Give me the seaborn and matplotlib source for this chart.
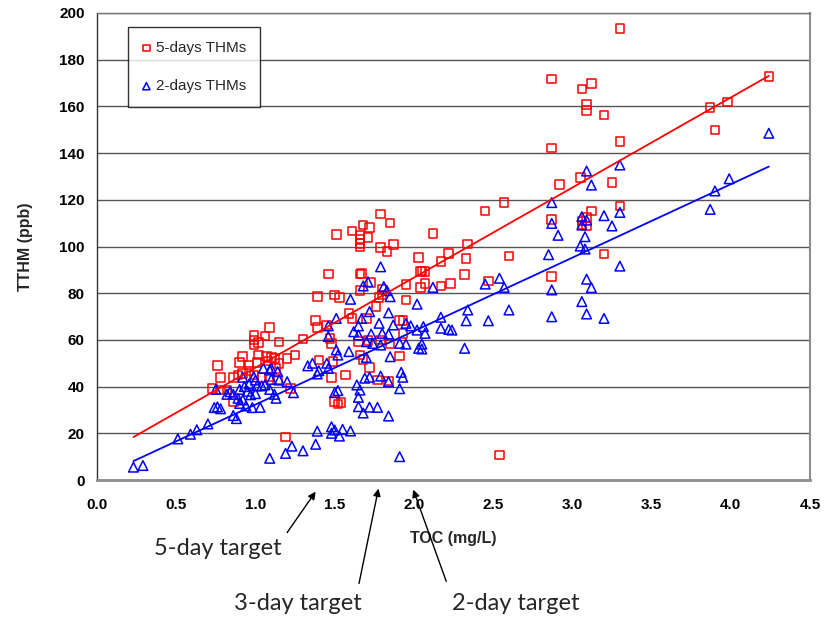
import matplotlib
matplotlib.use('Agg')
import matplotlib.pyplot as plt
import numpy as np
import pandas as pd
import seaborn as sns

# 5-day THMs: TOC (mg/L) vs TTHM (ppb)
toc_5day = [0.73, 0.76, 0.78, 0.78, 0.82, 0.86, 0.86, 0.89, 0.90, 0.92, 0.92, 0.96, 0.96, 0.99, 0.99,
            0.99, 0.99, 1.01, 1.02, 1.02, 1.04, 1.06, 1.07, 1.08, 1.09, 1.09, 1.10, 1.12, 1.13, 1.14,
            1.15, 1.15, 1.19, 1.20, 1.22, 1.25, 1.30, 1.38, 1.39, 1.39, 1.40, 1.45, 1.46, 1.47, 1.48,
            1.48, 1.49, 1.50, 1.50, 1.51, 1.52, 1.53, 1.54, 1.57, 1.59, 1.61, 1.61, 1.65, 1.66, 1.66,
            1.66, 1.66, 1.66, 1.67, 1.66, 1.66, 1.68, 1.68, 1.70, 1.71, 1.71, 1.72, 1.72, 1.73, 1.76,
            1.77, 1.78, 1.79, 1.79, 1.79, 1.80, 1.80, 1.83, 1.84, 1.85, 1.85, 1.87, 1.91, 1.91, 1.93,
            1.93, 1.95, 1.95, 2.03, 2.04, 2.04, 2.07, 2.05, 2.07, 2.12, 2.17, 2.17, 2.22, 2.23, 2.32,
            2.33, 2.34, 2.45, 2.47, 2.54, 2.57, 2.60, 2.87, 2.87, 2.87, 2.87, 2.92, 3.05, 3.06, 3.06,
            3.06, 3.09, 3.09, 3.09, 3.09, 3.12, 3.12, 3.20, 3.20, 3.25, 3.30, 3.30, 3.30, 3.87, 3.90,
            3.98, 4.24]
thm_5day = [39.3, 49.0, 44.0, 38.5, 38.5, 44.0, 33.5, 45.0, 50.4, 52.8, 45.7, 49.2, 46.7, 62.0, 60.0,
            57.8, 45.0, 50.4, 58.8, 53.5, 44.0, 61.7, 52.8, 51.0, 65.2, 44.2, 52.5, 52.0, 47.8, 43.1,
            59.1, 50.0, 18.5, 52.0, 39.3, 53.5, 60.3, 68.2, 78.5, 65.2, 51.4, 66.4, 88.2, 60.7, 58.5,
            43.8, 50.7, 79.2, 33.5, 105.2, 32.5, 78.2, 33.1, 45.0, 71.4, 106.6, 69.2, 59.2, 104.9, 103.1,
            101.4, 99.7, 88.2, 88.5, 81.1, 53.5, 109.2, 51.7, 69.2, 103.9, 59.7, 108.2, 48.3, 84.5, 74.2,
            42.8, 78.1, 113.9, 99.5, 60.0, 81.7, 79.2, 97.8, 42.4, 110.0, 58.5, 100.9, 68.2, 53.1, 68.2,
            62.8, 83.8, 77.1, 95.2, 89.2, 82.5, 89.2, 89.5, 84.2, 105.6, 93.5, 83.1, 97.1, 84.2, 88.1,
            94.9, 101.1, 115.2, 85.2, 10.7, 118.8, 95.9, 171.7, 142.1, 111.6, 87.1, 126.6, 129.6, 167.5, 110.9,
            109.2, 160.9, 158.2, 112.3, 108.8, 169.9, 115.2, 156.3, 96.8, 127.3, 193.4, 145.0, 117.3, 159.6, 149.8,
            161.9, 172.7]

# 2-day THMs
toc_2day = [0.23, 0.29, 0.51, 0.59, 0.63, 0.70, 0.74, 0.76, 0.78, 0.75, 0.82, 0.84, 0.86, 0.86, 0.88,
            0.89, 0.90, 0.90, 0.92, 0.92, 0.94, 0.96, 0.98, 0.99, 1.00, 1.01, 1.03, 1.04, 1.05, 1.06,
            1.09, 1.09, 1.09, 1.10, 1.10, 1.12, 1.13, 1.14, 1.15, 1.19, 1.20, 1.23, 1.24, 1.30, 1.33,
            1.36, 1.38, 1.39, 1.39, 1.40, 1.45, 1.46, 1.46, 1.46, 1.48, 1.48, 1.50, 1.50, 1.51, 1.51,
            1.52, 1.52, 1.53, 1.55, 1.59, 1.60, 1.60, 1.62, 1.64, 1.65, 1.65, 1.65, 1.65, 1.66, 1.67,
            1.68, 1.68, 1.69, 1.70, 1.70, 1.71, 1.72, 1.72, 1.72, 1.73, 1.74, 1.77, 1.78, 1.79, 1.79,
            1.79, 1.80, 1.81, 1.83, 1.84, 1.84, 1.84, 1.84, 1.85, 1.85, 1.87, 1.91, 1.91, 1.91, 1.92,
            1.93, 1.95, 1.95, 1.98, 2.02, 2.02, 2.03, 2.05, 2.05, 2.06, 2.07, 2.12, 2.17, 2.17, 2.22,
            2.24, 2.32, 2.33, 2.34, 2.45, 2.47, 2.54, 2.57, 2.60, 2.85, 2.87, 2.87, 2.87, 2.87, 2.91,
            3.05, 3.06, 3.06, 3.06, 3.08, 3.08, 3.09, 3.09, 3.09, 3.09, 3.12, 3.12, 3.20, 3.20, 3.25,
            3.30, 3.30, 3.30, 3.87, 3.90, 3.99, 4.24, 0.95, 0.97, 1.00, 0.93]
thm_2day = [5.5, 6.2, 17.6, 19.6, 21.5, 24.0, 31.0, 31.3, 30.5, 38.8, 36.7, 37.8, 36.7, 27.6, 26.3,
            35.0, 38.8, 32.8, 34.3, 44.0, 31.7, 41.1, 31.0, 44.2, 42.8, 40.3, 31.1, 40.3, 47.8, 40.7,
            47.1, 38.8, 9.3, 43.1, 47.8, 36.7, 35.0, 46.4, 42.8, 11.4, 42.1, 14.5, 37.4, 12.5, 48.9,
            50.0, 15.3, 20.9, 45.4, 46.8, 50.0, 47.8, 66.0, 61.5, 22.8, 20.0, 21.4, 37.4, 69.2, 55.7,
            38.3, 53.5, 18.8, 21.7, 55.0, 21.0, 77.4, 63.5, 40.7, 62.1, 66.0, 35.4, 31.4, 38.5, 69.2,
            83.1, 28.7, 43.6, 52.5, 59.2, 84.9, 72.1, 31.2, 44.0, 62.5, 58.5, 31.1, 67.1, 91.3, 57.8,
            44.5, 62.8, 82.8, 81.1, 71.6, 62.5, 42.1, 27.4, 78.5, 52.8, 66.4, 58.5, 39.1, 10.0, 46.1,
            44.0, 67.1, 58.2, 66.0, 75.3, 64.2, 56.4, 58.2, 56.1, 65.7, 62.8, 82.5, 69.7, 65.0, 64.5,
            64.2, 56.4, 68.2, 72.8, 83.9, 68.2, 86.4, 82.5, 72.8, 96.5, 118.8, 109.9, 81.4, 69.9, 104.8,
            100.2, 112.8, 109.2, 76.4, 104.2, 98.9, 132.3, 111.3, 86.0, 71.1, 126.3, 82.4, 113.2, 69.2, 108.8,
            134.9, 114.6, 91.6, 115.9, 123.8, 129.0, 148.5, 38.0, 36.5, 37.0, 40.0]

x_ticks = [0.0, 0.5, 1.0, 1.5, 2.0, 2.5, 3.0, 3.5, 4.0, 4.5]
y_ticks = [0, 20, 40, 60, 80, 100, 120, 140, 160, 180, 200]

# target annotations: label, label position, arrow tail, arrow tip (TOC, TTHM)
targets = [
    ('5-day target', (0.76, -29.5), (1.19, -23.5), (1.39, -4.0)),
    ('3-day target', (1.27, -53.0), (1.65, -45.5), (1.78, -2.5)),
    ('2-day target', (2.64, -53.0), (2.21, -44.5), (1.99, -3.0)),
]

df5 = pd.DataFrame({'TOC': toc_5day, 'TTHM': thm_5day})
df2 = pd.DataFrame({'TOC': toc_2day, 'TTHM': thm_2day})

sns.set_style('white')
plt.rcParams['font.family'] = ['Liberation Sans', 'DejaVu Sans']

fig = plt.figure(figsize=(8.36, 6.17), dpi=100)
ax = fig.add_axes([97 / 836, 1 - 480 / 617, 713 / 836, 467 / 617])

sns.scatterplot(data=df5, x='TOC', y='TTHM', marker='s', s=38, color='red',
                facecolor='none', edgecolor='red', linewidth=1.1, label='5-days THMs', ax=ax, zorder=3)
sns.scatterplot(data=df2, x='TOC', y='TTHM', marker='^', s=48, color='blue',
                facecolor='none', edgecolor='blue', linewidth=1.1, label='2-days THMs', ax=ax, zorder=3)

# linear trend lines, both drawn over the full TOC range of the data
all_toc = toc_5day + toc_2day
fit_x = np.array([min(all_toc), max(all_toc)])
for df, color in [(df5, 'red'), (df2, 'blue')]:
    slope, intercept = np.polyfit(df['TOC'], df['TTHM'], 1)
    sns.lineplot(x=fit_x, y=intercept + slope * fit_x, color=color, lw=1.3, ax=ax, zorder=4)

ax.set_xlim(0, 4.5)
ax.set_ylim(0, 200)
ax.set_xticks(x_ticks)
ax.set_xticklabels(['%.1f' % t for t in x_ticks])
ax.set_yticks(y_ticks)
ax.tick_params(axis='both', labelsize=11, direction='out', length=5, width=1)
for lab in ax.get_xticklabels() + ax.get_yticklabels():
    lab.set_fontweight('bold')
ax.tick_params(axis='x', colors='#808080', labelcolor='black', pad=8)
ax.tick_params(axis='y', colors='#333333', labelcolor='black', pad=4)

ax.set_axisbelow(True)
ax.yaxis.grid(True, color='#555555', lw=1)
ax.xaxis.grid(False)
ax.spines['left'].set_color('#333333')
ax.spines['left'].set_linewidth(1)
ax.spines['bottom'].set_color('#8c8c8c')
ax.spines['bottom'].set_linewidth(2)
ax.spines['right'].set_color('#8c8c8c')
ax.spines['right'].set_linewidth(1.5)
ax.spines['top'].set_color('#777777')
ax.spines['top'].set_linewidth(1)

ax.set_xlabel('TOC (mg/L)', fontsize=11.5, fontweight='bold', labelpad=14)
ax.set_ylabel('TTHM (ppb)', fontsize=11.5, fontweight='bold', labelpad=19)

leg = ax.legend(loc='upper left', bbox_to_anchor=(0.0435, 0.97), borderaxespad=0,
                fontsize=11, frameon=True, fancybox=False, edgecolor='black',
                handlelength=0.6, handletextpad=0.3, borderpad=0.9, labelspacing=1.6,
                markerscale=0.75)
leg.get_frame().set_linewidth(1)

for label, text_pos, tail, tip in targets:
    ax.annotate('', xy=tip, xytext=tail, annotation_clip=False,
                arrowprops=dict(arrowstyle='-|>', color='black', lw=1, mutation_scale=11))
    ax.text(text_pos[0], text_pos[1], label, family='Lato', fontsize=17,
            ha='center', va='center', clip_on=False)

fig.savefig('out.png', dpi=100)
